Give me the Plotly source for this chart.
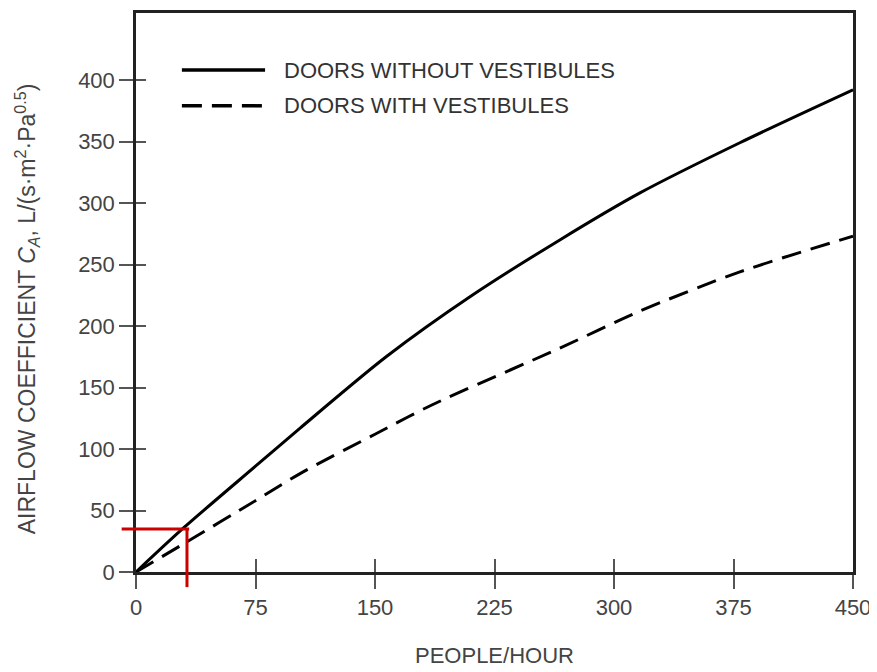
import plotly.graph_objects as go

# Data
x_without = [0, 30, 75, 103, 157, 211, 266, 316, 379, 450]
without_vestibules = [0, 36, 86, 117, 175, 225, 270, 308, 349, 392]
x_with = [0, 30, 75, 103, 150, 186, 266, 316, 379, 450]
with_vestibules = [0, 23, 58, 80, 112, 136, 182, 212, 244, 273]

series_names = ["DOORS WITHOUT VESTIBULES", "DOORS WITH VESTIBULES"]
x_ticks = [0, 75, 150, 225, 300, 375, 450]
y_ticks = [0, 50, 100, 150, 200, 250, 300, 350, 400]
x_range = [0, 450]
y_range = [0, 454.5]

# Red guide (example reading)
guide_x = 32
guide_y = 35

FONT = "Liberation Sans, Arial, sans-serif"
DASH = "20px,10px"

fig = go.Figure()
fig.add_trace(go.Scatter(
    x=x_without, y=without_vestibules, mode="lines",
    line=dict(color="black", width=3, shape="spline", smoothing=0.8),
    name=series_names[0], showlegend=False))
fig.add_trace(go.Scatter(
    x=x_with, y=with_vestibules, mode="lines",
    line=dict(color="black", width=3, dash=DASH, shape="spline", smoothing=0.8),
    name=series_names[1], showlegend=False))

axis_common = dict(showgrid=False, zeroline=False)

# page body has an 8px margin, so the figure is sized to fit the 877x672 window
fig.update_layout(
    width=869, height=664,
    margin=dict(l=128, r=24, t=2, b=100),
    paper_bgcolor="white", plot_bgcolor="white",
    font=dict(family=FONT, color="#444"),
    xaxis=dict(range=x_range, tickvals=x_ticks, ticks="outside", ticklen=14,
               tickwidth=2, tickcolor="#555", showline=True, linecolor="#222",
               linewidth=2.5, mirror=True, tickfont=dict(size=22, color="#444"),
               **axis_common),
    yaxis=dict(range=y_range, tickvals=y_ticks, ticks="outside", ticklen=14,
               tickwidth=2, tickcolor="#555", showline=True, linecolor="#222",
               linewidth=2.5, mirror=True, tickfont=dict(size=22, color="#444"),
               **axis_common),
    xaxis2=dict(range=x_range, tickvals=x_ticks, ticks="inside", ticklen=13,
                tickwidth=2, tickcolor="#555", showticklabels=False,
                overlaying="x", anchor="y", side="bottom", showline=False,
                **axis_common),
    yaxis2=dict(range=y_range, tickvals=y_ticks, ticks="inside", ticklen=10,
                tickwidth=2, tickcolor="#555", showticklabels=False,
                overlaying="y", anchor="x", side="left", showline=False,
                **axis_common),
)

# empty trace so the overlay axes (inner tick halves) are drawn
fig.add_trace(go.Scatter(x=[], y=[], xaxis="x2", yaxis="y2", showlegend=False, hoverinfo="skip"))

# Red guide lines
fig.add_shape(type="line", xref="paper", yref="y",
              x0=-0.02, x1=guide_x / x_range[1] + 0.003, y0=guide_y, y1=guide_y,
              line=dict(color="#cc0000", width=3))
fig.add_shape(type="line", xref="x", yref="paper",
              x0=guide_x, x1=guide_x, y0=-0.027, y1=guide_y / y_range[1],
              line=dict(color="#cc0000", width=3))

# Legend drawn inside plot (long line samples like the reference)
legend_y = [0.898, 0.834]
for name, yy, dash in zip(series_names, legend_y, ["solid", DASH]):
    fig.add_shape(type="line", xref="paper", yref="paper",
                  x0=0.064, x1=0.180, y0=yy, y1=yy,
                  line=dict(color="black", width=3.5, dash=dash))
    fig.add_annotation(xref="paper", yref="paper", x=0.203, y=yy,
                       xanchor="left", yanchor="middle", showarrow=False,
                       text=name, font=dict(size=22, color="#333", family=FONT))

# Axis titles
fig.add_annotation(xref="paper", yref="paper", x=0.5, y=-0.149,
                   xanchor="center", yanchor="middle", showarrow=False,
                   text="PEOPLE/HOUR", font=dict(size=22, color="#444", family=FONT))
fig.add_annotation(xref="paper", yref="paper", x=-0.152, y=0.47,
                   xanchor="center", yanchor="middle", showarrow=False, textangle=-90,
                   text="AIRFLOW COEFFICIENT <i>C</i><sub><i>A</i></sub>, L/(s·m<sup>2</sup>·Pa<sup>0.5</sup>)",
                   font=dict(size=23, color="#444", family=FONT))

fig.write_html("out.html")
